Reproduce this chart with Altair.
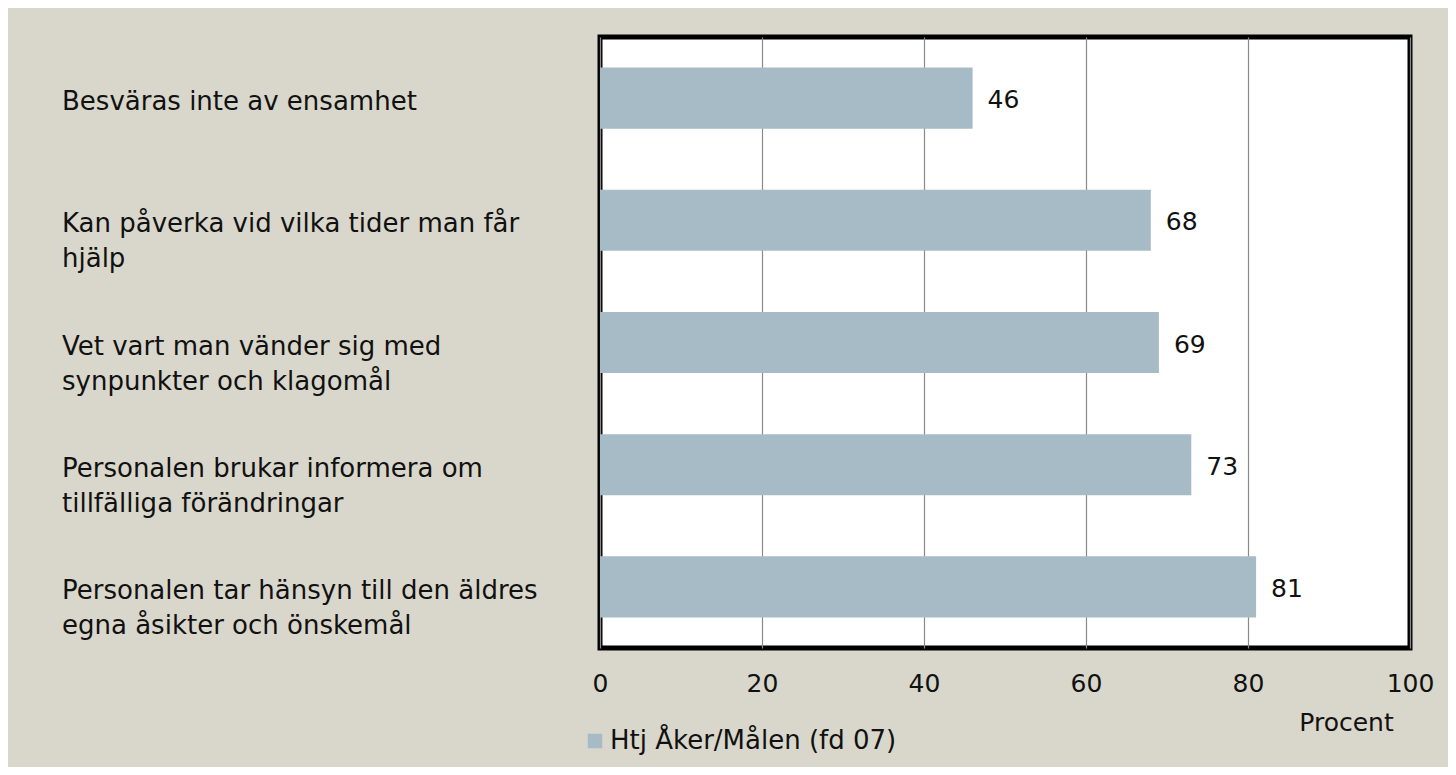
import altair as alt
import pandas as pd

categories = [
    "Besväras inte av ensamhet",
    "Kan påverka vid vilka tider man får hjälp",
    "Vet vart man vänder sig med synpunkter och klagomål",
    "Personalen brukar informera om tillfälliga förändringar",
    "Personalen tar hänsyn till den äldres egna åsikter och önskemål",
]
label_lines = [
    ["Besväras inte av ensamhet"],
    ["Kan påverka vid vilka tider man får", "hjälp"],
    ["Vet vart man vänder sig med", "synpunkter och klagomål"],
    ["Personalen brukar informera om", "tillfälliga förändringar"],
    ["Personalen tar hänsyn till den äldres", "egna åsikter och önskemål"],
]
values = [46, 68, 69, 73, 81]
series = "Htj Åker/Målen (fd 07)"
x_ticks = [0, 20, 40, 60, 80, 100]

FONT = "DejaVu Sans"
BG = "#d9d7cb"
BAR = "#a7bbc6"
INK = "#111111"

df = pd.DataFrame({
    "category": categories,
    "label": ["\n".join(l) for l in label_lines],
    "value": values,
    "series": [series] * len(values),
})

y_enc = alt.Y("category:N", sort=categories,
              scale=alt.Scale(paddingInner=0.5, paddingOuter=0.25),
              axis=None)

bars = alt.Chart(df).mark_bar(color=BAR).encode(
    x=alt.X("value:Q",
            scale=alt.Scale(domain=[0, 100], nice=False),
            axis=alt.Axis(values=x_ticks, grid=True, gridColor="#8a8a8a", gridWidth=1.2,
                          domain=False, ticks=False, labelFontSize=25, labelFont=FONT,
                          labelColor=INK, labelPadding=23, labelFlush=False,
                          title="Procent", titleFont=FONT, titleFontSize=25,
                          titleFontWeight="normal", titleColor=INK,
                          titleX=746, titleY=74, titleBaseline="middle",
                          titleAlign="center", titleAnchor="start")),
    y=y_enc,
    color=alt.Color("series:N", scale=alt.Scale(range=[BAR]),
                    legend=alt.Legend(title=None, orient="none", legendX=-18, legendY=691,
                                      symbolType="square", symbolSize=210,
                                      symbolStrokeWidth=0, labelFont=FONT,
                                      labelFontSize=26, labelColor=INK, labelLimit=0,
                                      labelOffset=2, padding=0)),
)

value_text = alt.Chart(df).mark_text(align="left", baseline="middle", dx=15, dy=2,
                                     font=FONT, fontSize=25, color=INK).encode(
    x="value:Q", y=y_enc, text="value:Q")

cat_text = alt.Chart(df).mark_text(align="left", baseline="alphabetic", dy=12,
                                   lineBreak="\n", lineHeight=35,
                                   font=FONT, fontSize=26, color=INK).encode(
    x=alt.value(-538), y=y_enc, text="label:N")

chart = alt.layer(bars, value_text, cat_text).properties(
    width=810, height=611,
    autosize=alt.AutoSizeParams(type="none"),
    padding={"left": 592, "top": 29, "right": 38, "bottom": 119},
    background=BG,
).configure_view(fill="white", stroke="black", strokeWidth=5)

chart.save("out.html", embed_options={"renderer": "svg", "actions": False})
